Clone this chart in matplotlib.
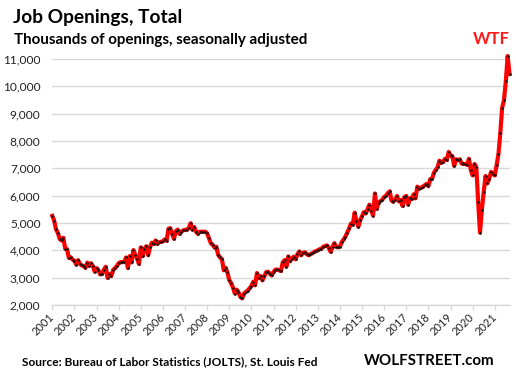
import matplotlib
matplotlib.use("Agg")
import matplotlib.pyplot as plt
from matplotlib.ticker import FuncFormatter
import matplotlib.transforms as mtransforms
import numpy as np

# Job openings, thousands, monthly, Dec 2000 .. Aug 2021
openings_2000_2005 = [
    5260, 5090, 4770, 4640, 4420, 4360, 4460, 4060, 4040, 3720,
    3740, 3660, 3620, 3480, 3640, 3500, 3450, 3420, 3360, 3550,
    3430, 3530, 3430, 3220, 3350, 3280, 3120, 3130, 3290, 3400,
    2990, 3130, 3060, 3280, 3350, 3420, 3530, 3570, 3570, 3570,
    3740, 3350, 3790, 3560, 4010, 3840, 3700, 3500, 4110, 3790]
openings_2005_2009 = [
    4060, 4150, 3820, 4110, 4280, 4230, 4360, 4230, 4300, 4310,
    4330, 4400, 4350, 4790, 4810, 4600, 4420, 4700, 4760, 4600,
    4680, 4730, 4750, 4760, 4810, 4990, 4760, 4850, 4680, 4600,
    4680, 4680, 4680, 4680, 4620, 4440, 4260, 4200, 4100, 4130,
    3830, 3740, 3680, 3270, 3360, 3190, 2910, 2800, 2640, 2420]
openings_2009_2013 = [
    2560, 2470, 2300, 2240, 2420, 2480, 2530, 2610, 2700, 2850,
    2720, 3170, 2980, 3060, 2900, 3050, 3200, 3220, 3150, 3080,
    3210, 3290, 3300, 3270, 3240, 3560, 3640, 3400, 3780, 3600,
    3700, 3770, 3670, 3860, 3960, 3820, 3910, 3930, 3860, 3820,
    3860, 3890, 3940, 3970, 4000, 4040, 4060, 4130, 4160, 4180]
openings_2013_2017 = [
    4090, 3940, 4130, 4260, 4130, 4110, 4130, 4300, 4400, 4500,
    4650, 4800, 4980, 4940, 5380, 5060, 4860, 5100, 5250, 5400,
    5350, 5500, 5670, 5450, 5270, 6080, 5520, 5750, 5800, 5850,
    5950, 6000, 6090, 6160, 5820, 5780, 5850, 5990, 5790, 5840,
    5620, 5950, 5990, 5670, 5900, 5880, 6050, 5900, 6330, 6260]
openings_2017_2021 = [
    6290, 6330, 6380, 6430, 6350, 6600, 6620, 6840, 6940, 7040,
    7280, 7210, 7230, 7350, 7300, 7600, 7470, 7450, 7090, 7330,
    7300, 7330, 7180, 7160, 7160, 7130, 7350, 6940, 6740, 7160,
    7040, 5770, 4650, 5480, 6130, 6720, 6450, 6620, 6870, 6800,
    6740, 7110, 7520, 8280, 9210, 9500, 10180, 11110, 10450]

year_labels = [str(y) for y in range(2001, 2022)]
y_ticks = list(range(2000, 11001, 1000))

openings = (openings_2000_2005 + openings_2005_2009 + openings_2009_2013
            + openings_2013_2017 + openings_2017_2021)
x = np.arange(len(openings))

FONT = ["Lato", "DejaVu Sans"]
plt.rcParams["font.family"] = FONT

W, H = 516, 376
fig = plt.figure(figsize=(W / 100, H / 100), dpi=100)
left, right, top, bottom = 52.3, 509.5, 59, 305
ax = fig.add_axes([left / W, 1 - bottom / H, (right - left) / W, (bottom - top) / H])

ax.plot(x, openings, color="#ff0000", lw=3.0, solid_joinstyle="round", zorder=3, clip_on=False)
ax.plot(x, openings, ls="none", marker="o", ms=1.8, mew=0, color="#111111", zorder=4, clip_on=False)

ax.set_xlim(0, len(openings) - 1)
ax.set_ylim(y_ticks[0], y_ticks[-1])
ax.set_yticks(y_ticks)
ax.yaxis.set_major_formatter(FuncFormatter(lambda v, p: f"{int(v):,}"))
ax.yaxis.grid(True, color="#d9d9d9", lw=1.0)
ax.set_axisbelow(True)

tick_pos = [12 * i for i in range(len(year_labels))]
ax.set_xticks(tick_pos)
ax.set_xticklabels(year_labels, rotation=45, ha="right", rotation_mode="anchor", va="center")
offset = mtransforms.ScaledTranslation(3 / 100, 0, fig.dpi_scale_trans)
for lbl in ax.get_xticklabels():
    lbl.set_transform(lbl.get_transform() + offset)

for s in ["left", "right", "top"]:
    ax.spines[s].set_visible(False)
ax.spines["bottom"].set_color("#d9d9d9")
ax.spines["bottom"].set_linewidth(1.0)

ax.tick_params(axis="y", length=0, pad=8.5, labelsize=8.6, labelcolor="#222222")
ax.tick_params(axis="x", length=3.6, width=1.0, color="#d9d9d9", direction="out",
               pad=4.0, labelsize=7.9, labelcolor="#222222")

def ftext(px, py, s, **kw):
    fig.text(px / W, 1 - py / H, s, **kw)

ftext(13, 22.7, "Job Openings, Total", fontsize=13.8, fontweight="bold", va="baseline", color="black")
ftext(14, 44.3, "Thousands of openings, seasonally adjusted", fontsize=10.9, fontweight="bold",
      va="baseline", color="black")
ftext(510, 44.3, "WTF", fontsize=12, fontweight="bold", va="baseline", ha="right", color="#ff1a1a")
ftext(22, 365, "Source: Bureau of Labor Statistics (JOLTS), St. Louis Fed", fontsize=8.6,
      fontweight="bold", va="baseline", color="black")
ftext(495, 365, "WOLFSTREET.com", fontsize=10.9, fontweight="bold", va="baseline", ha="right",
      color="black")

fig.savefig("out.png", dpi=100)
